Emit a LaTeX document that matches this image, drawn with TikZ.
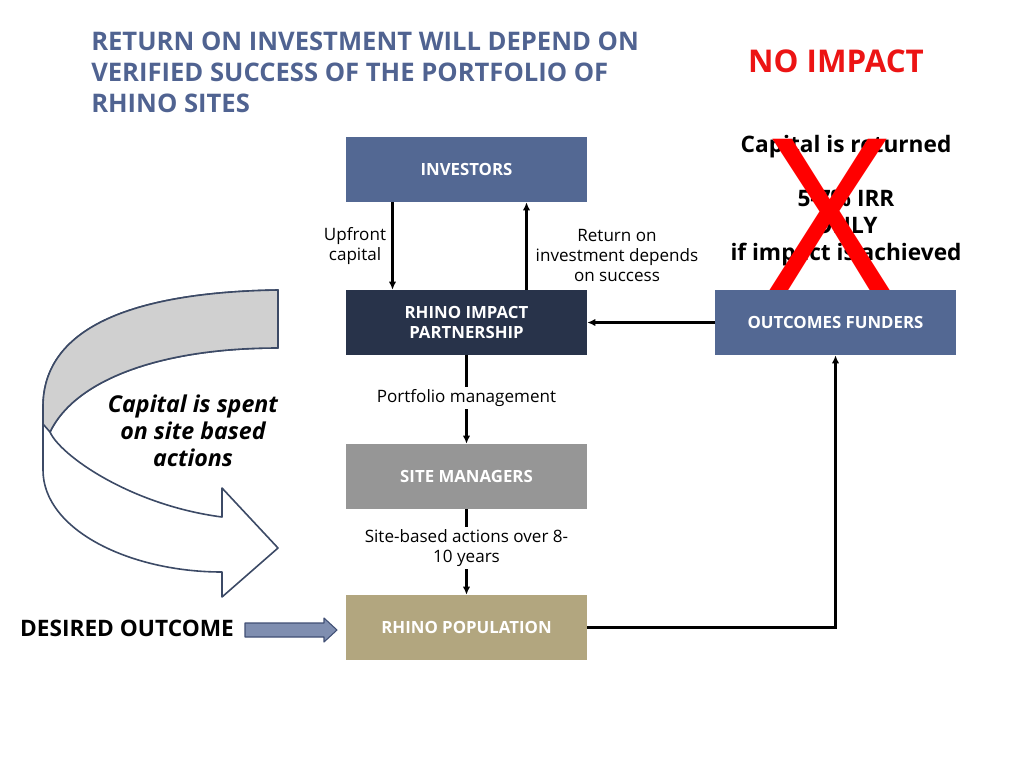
\documentclass[tikz,border=0pt]{standalone}
\usepackage{fontspec}
\setmainfont{Open Sans}
\usetikzlibrary{arrows.meta,positioning,calc}
\definecolor{roiblue}   {RGB}{80, 99,145}
\definecolor{boxblue}   {RGB}{83,104,147}
\definecolor{rhinonavy} {RGB}{40, 51, 74}
\definecolor{sitegray}  {RGB}{150,150,150}
\definecolor{rhinotan}  {RGB}{178,166,127}
\definecolor{noimpred}  {RGB}{236, 20, 20}
\definecolor{curvedge}  {RGB}{60, 74,102}
\definecolor{curvgray}  {RGB}{208,208,208}
\definecolor{arrowfill} {RGB}{127,142,176}

\begin{document}
\begin{tikzpicture}[x=0.75pt,y=-0.75pt,
  every node/.style={font=\fontsize{11}{15}\selectfont,inner sep=0pt},
  box/.style={minimum width=180.75pt,minimum height=48.75pt,text=white,
              align=center,font=\fontsize{12.6}{15}\selectfont\bfseries},
  lbl/.style={align=center,font=\fontsize{12.8}{15}\selectfont},
  big/.style={align=center,font=\fontsize{17}{20.25}\selectfont\bfseries},
  flow/.style={line width=1.6pt,-{Latex[length=6pt,width=5.5pt]}},
  curvarrow/.style={draw=curvedge,line width=1.2pt,line join=round},
  blockarrow/.style={draw=roiblue!80!black,fill=arrowfill,line width=0.8pt,
                     line join=round},
]
\useasboundingbox (0,0) rectangle (1024,768);

%% Title
\node[anchor=west,align=left,text=roiblue,
      font=\fontsize{19.2}{23.25}\selectfont\bfseries] (title) at (91,72)
  {RETURN ON INVESTMENT WILL DEPEND ON\\
   VERIFIED SUCCESS OF THE PORTFOLIO OF\\
   RHINO SITES};
\node[text=noimpred,font=\fontsize{23.5}{26}\selectfont\bfseries] (noimp) at (836,61)
  {NO IMPACT};

%% Crossed-out returns
\node[big] (returned) at (846,201)
  {Capital is returned\\[20.25pt]
   5-7\% IRR\\
   ONLY\\
   if impact is achieved};
\node[text=red,font=\fontsize{160}{160}\selectfont] (cross) at (830,215) {X};

%% Boxes
\node[box,fill=boxblue]   (inv)    at (466.5,169.5) {INVESTORS};
\node[box,fill=rhinonavy] (rip)    at (466.5,322.5) {RHINO IMPACT\\PARTNERSHIP};
\node[box,fill=boxblue]   (funder) at (835.5,322.5) {OUTCOMES FUNDERS};
\node[box,fill=sitegray]  (site)   at (466.5,476.5) {SITE MANAGERS};
\node[box,fill=rhinotan]  (rhino)  at (466.5,627.5) {RHINO POPULATION};

%% Flows
\draw[flow] ($(inv.south)+(-74,0)$) -- ($(rip.north)+(-74,0)$);
\draw[flow] ($(rip.north)+(60,0)$) -- ($(inv.south)+(60,0)$);
\node[lbl] (upfront) at (355,246) {Upfront\\capital};
\node[lbl] (retlbl)  at (617,255) {Return on\\investment depends\\on success};
\draw[flow] (funder.west) -- (rip.east);
\draw[flow] (rip.south) -- (site.north)
  node[lbl,midway,fill=white,inner sep=2pt,yshift=1pt] (portf) {Portfolio management};
\draw[flow] (site.south) -- (rhino.north)
  node[lbl,midway,fill=white,inner sep=2pt,yshift=3pt] (actions)
    {Site-based actions over 8-\\10 years};
\draw[flow] (rhino.east) -| (funder.south);

%% Desired outcome
\node[big] (desired) at (127,628) {DESIRED OUTCOME};
\filldraw[blockarrow] (245,623) -- (324,623) -- (324,618) -- (337,630)
  -- (324,642) -- (324,637) -- (245,637) -- cycle;

%% U-turn arrow
\filldraw[curvarrow,fill=white]
  (278,290) .. controls (150,292) and (43,320) .. (43,407) -- (43,470)
  .. controls (43,530) and (130,572) .. (222,572) -- (222,597) -- (278,548)
  -- (222,488) -- (222,517) .. controls (130,505) and (60,455) .. (50,432)
  .. controls (75,380) and (160,348) .. (278,348) -- cycle;
\filldraw[curvarrow,fill=curvgray]
  (278,290) .. controls (150,292) and (43,320) .. (43,407) -- (43,424)
  -- (50,432) .. controls (75,380) and (160,348) .. (278,348) -- cycle;
\node[big,font=\fontsize{17.4}{20.25}\selectfont\bfseries\itshape] (spent) at (193,431)
  {Capital is spent\\on site based\\actions};

\end{tikzpicture}
\end{document}
